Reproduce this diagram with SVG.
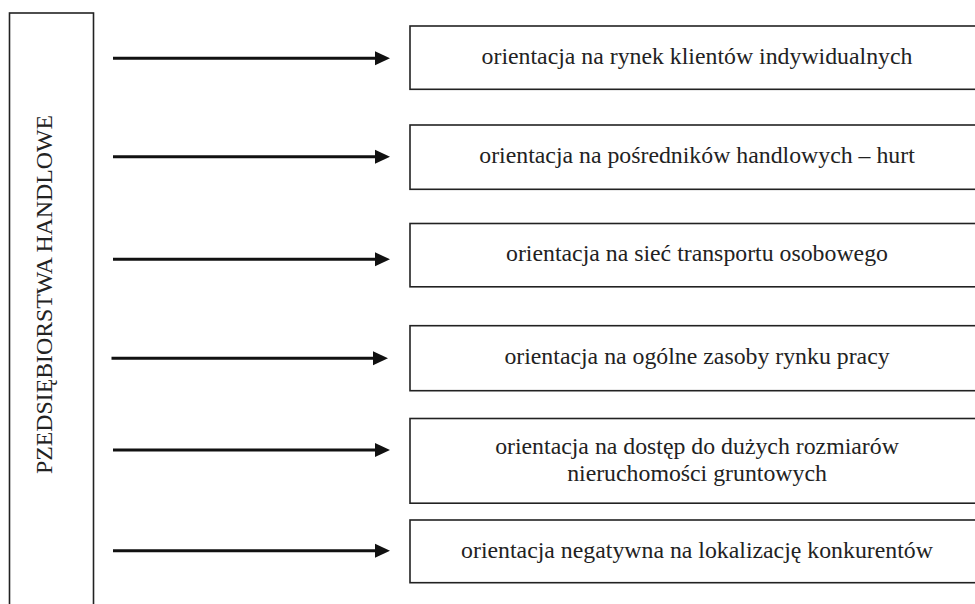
<svg xmlns="http://www.w3.org/2000/svg" width="975" height="604" viewBox="0 0 975 604">
<defs>
<style>
.box{fill:#fff;stroke:#222;stroke-width:1.6}
.t{font-family:'Liberation Serif','Times New Roman','DejaVu Serif',serif;font-size:23.8px;fill:#222;text-anchor:middle}
.arr{stroke:#111;stroke-width:3;fill:none}
.head{fill:#111}
</style>
</defs>
<rect width="975" height="604" fill="#fff"/>
<g id="source">
<rect class="box" x="9.5" y="13" width="84" height="620"/>
<text class="t" font-family="Liberation Serif, serif" transform="translate(51.5,294.5) rotate(-90)">PZEDSIĘBIORSTWA HANDLOWE</text>
</g>
<g id="n1"><rect class="box" x="410" y="26" width="580" height="63.3"/><text class="t" font-family="Liberation Serif, serif" x="697" y="63.5">orientacja na rynek klientów indywidualnych</text></g>
<g id="n2"><rect class="box" x="410" y="125" width="580" height="64.3"/><text class="t" font-family="Liberation Serif, serif" x="697" y="163">orientacja na pośredników handlowych – hurt</text></g>
<g id="n3"><rect class="box" x="410" y="223.5" width="580" height="63.3"/><text class="t" font-family="Liberation Serif, serif" x="697" y="261">orientacja na sieć transportu osobowego</text></g>
<g id="n4"><rect class="box" x="410" y="325.7" width="580" height="65"/><text class="t" font-family="Liberation Serif, serif" x="697" y="364">orientacja na ogólne zasoby rynku pracy</text></g>
<g id="n5"><rect class="box" x="410" y="418.5" width="580" height="84.7"/><text class="t" font-family="Liberation Serif, serif" x="697" y="454">orientacja na dostęp do dużych rozmiarów</text><text class="t" font-family="Liberation Serif, serif" x="697" y="481">nieruchomości gruntowych</text></g>
<g id="n6"><rect class="box" x="410" y="520" width="580" height="62.7"/><text class="t" font-family="Liberation Serif, serif" x="697" y="557.5">orientacja negatywna na lokalizację konkurentów</text></g>
<g id="connectors">
<line class="arr" x1="113" y1="58.3" x2="377" y2="58.3"/><polygon class="head" points="375,51.3 390,58.3 375,65.3"/>
<line class="arr" x1="113" y1="156.7" x2="377" y2="156.7"/><polygon class="head" points="375,149.7 390,156.7 375,163.7"/>
<line class="arr" x1="113" y1="259.3" x2="377" y2="259.3"/><polygon class="head" points="375,252.3 390,259.3 375,266.3"/>
<line class="arr" x1="111.5" y1="358.3" x2="375" y2="358.3"/><polygon class="head" points="373,351.3 388,358.3 373,365.3"/>
<line class="arr" x1="113" y1="450" x2="377" y2="450"/><polygon class="head" points="375,443 390,450 375,457"/>
<line class="arr" x1="113" y1="550.7" x2="377" y2="550.7"/><polygon class="head" points="375,543.7 390,550.7 375,557.7"/>
</g>
</svg>
